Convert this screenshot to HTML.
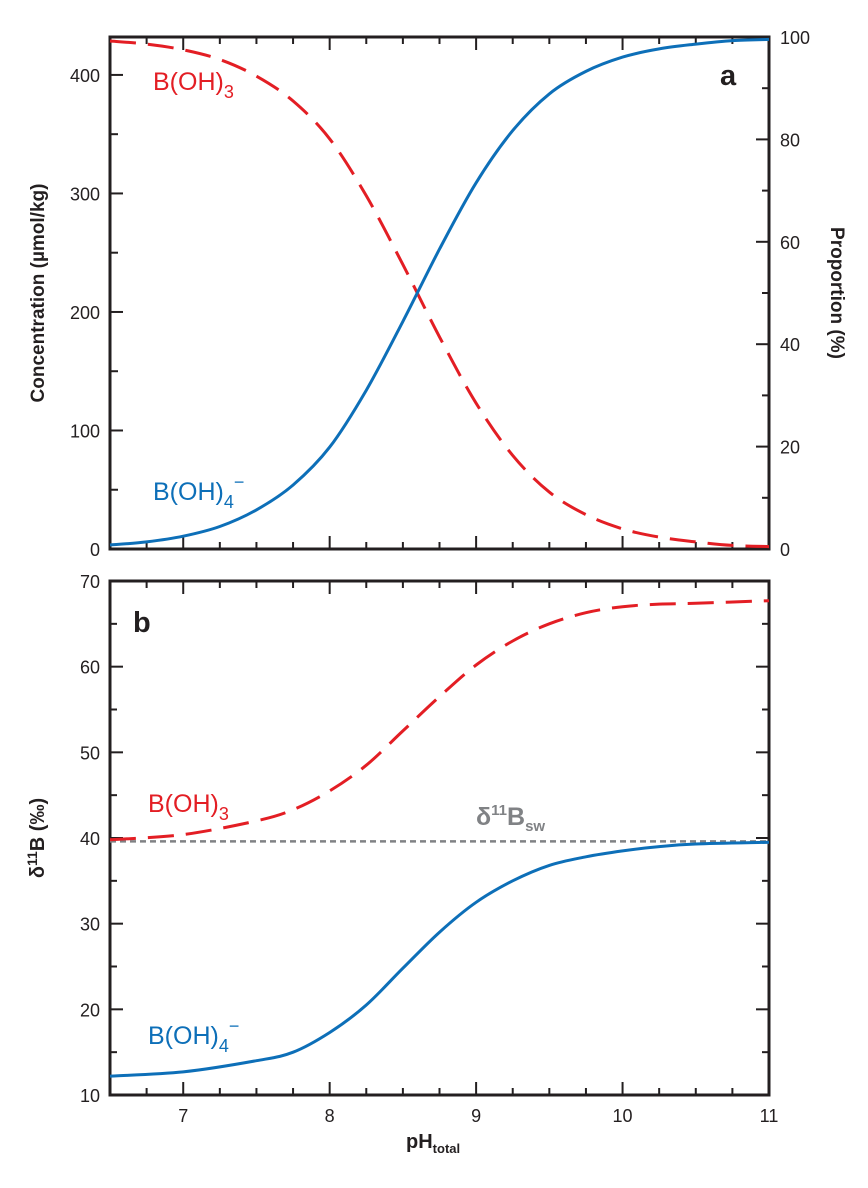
<!DOCTYPE html>
<html><head><meta charset="utf-8"><style>
body{margin:0;background:#fff}
svg{display:block;font-family:"Liberation Sans",sans-serif}
</style></head><body>
<svg id="c" width="868" height="1188"></svg>
<script>
const phA=[6.5,6.75,7,7.25,7.5,7.75,8,8.25,8.5,8.75,9,9.25,9.5,9.75,10,10.25,10.5,10.75,11];
const borateConc=[3.4,6,10.8,19,33,54,86,134,192,253,309,353,384,403,415,422,426,429,430];
const boricConc=[428.6,426,421.2,413,399,378,346,298,240,179,123,79,48,29,17,10,6,3,2];
const phB=[6.5,7,7.5,7.75,8,8.25,8.5,8.75,9,9.25,9.5,9.75,10,10.25,10.5,11];
const borateD=[12.2,12.7,14,15,17.3,20.5,24.8,29,32.5,35,36.8,37.8,38.5,39,39.3,39.5];
const boricD=[39.8,40.4,42,43.3,45.5,48.5,52.5,56.5,60.2,63,65,66.3,67,67.3,67.4,67.7];
const seawaterD=39.6;
const xTicks=[7,8,9,10,11];
const yTicksA=[0,100,200,300,400];
const yTicksProp=[0,20,40,60,80,100];
const yTicksB=[10,20,30,40,50,60,70];

const NS="http://www.w3.org/2000/svg",svg=document.getElementById('c');
function el(t,a,p){const e=document.createElementNS(NS,t);for(const k in a)e.setAttribute(k,a[k]);(p||svg).appendChild(e);return e;}
const X0=110,X1=769;
const xs=v=>X0+(v-6.5)/(11-6.5)*(X1-X0);
const A0=549,A1=37,yA=v=>A0-v/432*(A0-A1),yP=v=>A0-v/100*(A0-A1);
const B0=1095,B1=581,yB=v=>B0-(v-10)/60*(B0-B1);
function txt(x,y,s,a,name){const t=el('text',Object.assign({x:x,y:y},a));t.innerHTML=s;return t;}
function frame(top,bot,name){
 const r=el('rect',{x:X0,y:top,width:X1-X0,height:bot-top,fill:'none',stroke:'#231f20','stroke-width':3});
 
 for(let v=6.75;v<11;v+=0.25){const maj=Math.abs(v-Math.round(v))<1e-6;const L=maj?13:7;
  el('line',{x1:xs(v),x2:xs(v),y1:bot,y2:bot-L,stroke:'#231f20','stroke-width':2});
  el('line',{x1:xs(v),x2:xs(v),y1:top,y2:top+L,stroke:'#231f20','stroke-width':2});}
}
function path(xv,yv,xf,yf,attrs,name){
 const P=xv.map((v,i)=>[xf(v),yf(yv[i])]);
 let d='M'+P[0][0].toFixed(1)+','+P[0][1].toFixed(1);
 for(let i=0;i<P.length-1;i++){const p0=P[Math.max(i-1,0)],p1=P[i],p2=P[i+1],p3=P[Math.min(i+2,P.length-1)];
  const c1=[p1[0]+(p2[0]-p0[0])/6,p1[1]+(p2[1]-p0[1])/6],c2=[p2[0]-(p3[0]-p1[0])/6,p2[1]-(p3[1]-p1[1])/6];
  d+='C'+c1.map(n=>n.toFixed(1))+' '+c2.map(n=>n.toFixed(1))+' '+p2.map(n=>n.toFixed(1));}
 const p=el('path',Object.assign({d:d,fill:'none','stroke-linejoin':'round'},attrs));}
// panel a
frame(A1,A0,'panel-a-frame');
for(let v=50;v<432;v+=50){el('line',{x1:X0,x2:X0+(v%100?8:13),y1:yA(v),y2:yA(v),stroke:'#231f20','stroke-width':2});}
yTicksA.forEach(v=>txt(100,yA(v)+7,v,{'text-anchor':'end','font-size':18,fill:'#231f20'},'y-tick-a'));
for(let v=10;v<100;v+=10){el('line',{x1:X1,x2:X1-(v%20?7:13),y1:yP(v),y2:yP(v),stroke:'#231f20','stroke-width':2});}
yTicksProp.forEach(v=>txt(780,yP(v)+7,v,{'font-size':18,fill:'#231f20'},'y-tick-proportion'));
path(phA,boricConc,xs,yA,{stroke:'#e31e24','stroke-width':3,'stroke-dasharray':'26,12'},'boric-acid-concentration-line');
path(phA,borateConc,xs,yA,{stroke:'#0d6fb8','stroke-width':3},'borate-concentration-line');
txt(153,90,'B(OH)<tspan font-size="18" dy="8">3</tspan>',{'font-size':25,fill:'#e31e24'},'boric-acid-label-a');
txt(153,500,'B(OH)<tspan font-size="18" dy="8">4</tspan><tspan font-size="18" dy="-20">−</tspan>',{'font-size':25,fill:'#0d6fb8'},'borate-label-a');
txt(720,85,'a',{'font-size':29,'font-weight':'bold',fill:'#231f20'},'panel-a-label');
txt(0,0,'Concentration (µmol/kg)',{'font-size':19,'font-weight':'bold',fill:'#231f20','text-anchor':'middle',transform:'translate(44,293) rotate(-90)'},'y-axis-title-concentration');
txt(0,0,'Proportion (%)',{'font-size':19,'font-weight':'bold',fill:'#231f20','text-anchor':'middle',transform:'translate(831,293) rotate(90)'},'y-axis-title-proportion');
// panel b
frame(B1,B0,'panel-b-frame');
for(let v=15;v<70;v+=5){el('line',{x1:X0,x2:X0+(v%10?7:13),y1:yB(v),y2:yB(v),stroke:'#231f20','stroke-width':2});el('line',{x1:X1,x2:X1-(v%10?7:13),y1:yB(v),y2:yB(v),stroke:'#231f20','stroke-width':2});}
yTicksB.forEach(v=>txt(100,yB(v)+7,v,{'text-anchor':'end','font-size':18,fill:'#231f20'},'y-tick-b'));
xTicks.forEach(v=>txt(xs(v),1122,v,{'text-anchor':'middle','font-size':18,fill:'#231f20'},'x-tick'));
const sw=el('line',{x1:X0,x2:X1,y1:yB(seawaterD),y2:yB(seawaterD),stroke:'#808285','stroke-width':2.5,'stroke-dasharray':'6,4'});

path(phB,boricD,xs,yB,{stroke:'#e31e24','stroke-width':3,'stroke-dasharray':'26,12'},'boric-acid-delta-line');
path(phB,borateD,xs,yB,{stroke:'#0d6fb8','stroke-width':3},'borate-delta-line');
txt(148,812,'B(OH)<tspan font-size="18" dy="8">3</tspan>',{'font-size':25,fill:'#e31e24'},'boric-acid-label-b');
txt(148,1044,'B(OH)<tspan font-size="18" dy="8">4</tspan><tspan font-size="18" dy="-20">−</tspan>',{'font-size':25,fill:'#0d6fb8'},'borate-label-b');
txt(476,825,'δ<tspan font-size="15" dy="-10">11</tspan><tspan dy="10">B</tspan><tspan font-size="15" dy="6">sw</tspan>',{'font-size':25,'font-weight':'bold',fill:'#808285'},'seawater-label');
txt(133,632,'b',{'font-size':29,'font-weight':'bold',fill:'#231f20'},'panel-b-label');
txt(0,0,'δ<tspan font-size="14" dy="-7">11</tspan><tspan dy="7">B (‰)</tspan>',{'font-size':20,'font-weight':'bold',fill:'#231f20','text-anchor':'middle',transform:'translate(44,838) rotate(-90)'},'y-axis-title-delta');
txt(406,1148,'pH<tspan font-size="13" dy="5">total</tspan>',{'font-size':20,'font-weight':'bold',fill:'#231f20'},'x-axis-title');
</script>
</body></html>
